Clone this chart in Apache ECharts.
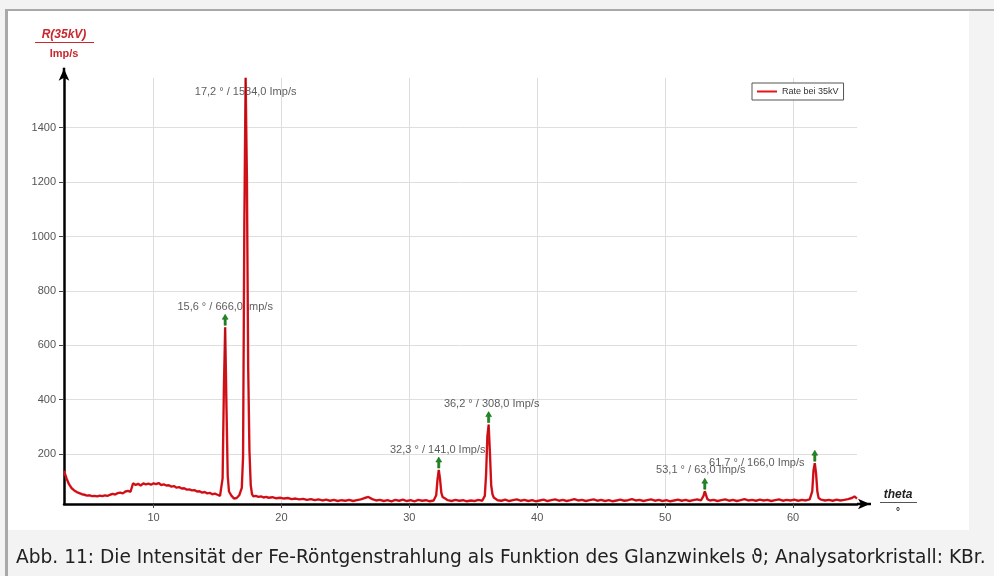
<!DOCTYPE html>
<html><head><meta charset="utf-8">
<script src="https://cdn.jsdelivr.net/npm/echarts@6/dist/echarts.min.js"></script>
<style>html,body{margin:0;padding:0;background:#f3f3f3}#c{width:994px;height:576px}</style>
</head><body><div id="c"></div><script>
const seriesName = 'Rate bei 35kV';
const yTitle = 'R(35kV)';
const yUnit = 'Imp/s';
const xTitle = 'theta';
const xUnit = '°';
const caption = 'Abb. 11: Die Intensität der Fe-Röntgenstrahlung als Funktion des Glanzwinkels ϑ; Analysatorkristall: KBr.';
const xTicks = [10, 20, 30, 40, 50, 60];
const yTicks = [200, 400, 600, 800, 1000, 1200, 1400];
const xRange = [3, 65];
const yRange = [16, 1584];
const peakTheta = [15.6, 17.2, 32.3, 36.2, 53.1, 61.7];
const peakRate = [666, 1584, 141, 308, 63, 166];
const peakLabels = ['15,6 ° / 666,0 Imp/s', '17,2 ° / 1584,0 Imp/s', '32,3 ° / 141,0 Imp/s', '36,2 ° / 308,0 Imp/s', '53,1 ° / 63,0 Imp/s', '61,7 ° / 166,0 Imp/s'];
// [theta (°), rate (Imp/s)]
const measurement = [
[3.0,138],[3.2,110],[3.4,88],[3.6,74],[3.8,66],[4.0,60],[4.2,56],[4.4,52],[4.6,50],[4.8,47],
[5.0,48],[5.2,45],[5.4,46],[5.6,44],[5.8,47],[6.0,45],[6.2,48],[6.4,46],[6.6,50],[6.8,53],
[7.0,51],[7.2,56],[7.4,58],[7.6,55],[7.8,62],[8.0,64],[8.2,61],[8.3,68],[8.4,92],[8.6,86],
[8.8,90],[9.0,84],[9.2,92],[9.4,88],[9.6,91],[9.8,87],[10.0,92],[10.2,89],[10.4,93],[10.6,86],
[10.8,88],[11.0,84],[11.2,85],[11.4,80],[11.6,82],[11.8,76],[12.0,78],[12.2,73],[12.4,74],[12.6,69],
[12.8,70],[13.0,66],[13.2,67],[13.4,62],[13.6,63],[13.8,58],[14.0,60],[14.2,55],[14.4,57],[14.6,52],
[14.8,54],[15.0,50],[15.2,46],[15.3,44],[15.4,110],[15.5,440],[15.6,666],[15.7,380],[15.8,120],[15.9,62],
[16.0,55],[16.1,46],[16.2,40],[16.3,36],[16.4,42],[16.5,38],[16.6,45],[16.7,48],[16.8,52],[16.9,75],
[17.0,190],[17.1,1050],[17.2,1584],[17.3,1220],[17.4,520],[17.5,210],[17.6,85],[17.7,52],[17.8,44],[18.0,46],
[18.2,42],[18.4,44],[18.6,40],[18.8,42],[19.0,39],[19.3,41],[19.6,37],[19.9,39],[20.2,36],[20.5,38],
[20.8,34],[21.1,36],[21.4,33],[21.7,35],[22.0,31],[22.3,34],[22.6,30],[22.9,33],[23.2,29],[23.5,32],
[23.8,28],[24.1,31],[24.4,27],[24.7,30],[25.0,28],[25.3,31],[25.6,27],[25.9,30],[26.2,33],[26.5,38],
[26.8,42],[27.1,34],[27.4,29],[27.7,31],[28.0,27],[28.3,30],[28.6,26],[28.9,31],[29.2,28],[29.5,32],
[29.8,27],[30.1,30],[30.4,26],[30.7,31],[31.0,28],[31.3,30],[31.6,26],[31.9,29],[32.0,32],[32.1,48],
[32.2,105],[32.3,141],[32.4,108],[32.5,58],[32.6,42],[32.7,44],[32.8,36],[33.0,30],[33.3,27],[33.6,31],
[33.9,28],[34.2,30],[34.5,26],[34.8,29],[35.1,27],[35.4,31],[35.7,28],[35.8,30],[35.9,46],[36.0,125],
[36.1,265],[36.2,308],[36.3,205],[36.4,85],[36.5,52],[36.6,40],[36.7,34],[36.9,30],[37.2,28],[37.5,32],
[37.8,27],[38.1,30],[38.4,33],[38.7,28],[39.0,31],[39.3,27],[39.6,30],[39.9,26],[40.2,29],[40.5,32],
[40.8,27],[41.1,30],[41.4,33],[41.7,28],[42.0,31],[42.3,27],[42.6,30],[42.9,34],[43.2,29],[43.5,31],
[43.8,27],[44.1,30],[44.4,33],[44.7,28],[45.0,31],[45.3,27],[45.6,30],[45.9,26],[46.2,29],[46.5,32],
[46.8,28],[47.1,30],[47.4,34],[47.7,29],[48.0,31],[48.3,27],[48.6,30],[48.9,33],[49.2,28],[49.5,31],
[49.8,27],[50.1,30],[50.4,26],[50.7,29],[51.0,32],[51.3,28],[51.6,31],[51.9,27],[52.2,30],[52.5,33],
[52.8,29],[52.9,32],[53.0,46],[53.1,63],[53.2,49],[53.3,34],[53.5,29],[53.8,31],[54.1,27],[54.4,30],
[54.7,33],[55.0,28],[55.3,31],[55.6,27],[55.9,30],[56.2,34],[56.5,29],[56.8,31],[57.1,28],[57.4,32],
[57.7,29],[58.0,31],[58.3,27],[58.6,30],[58.9,33],[59.2,28],[59.5,31],[59.8,29],[60.1,32],[60.4,28],
[60.7,31],[61.0,29],[61.3,33],[61.4,34],[61.5,62],[61.6,140],[61.7,166],[61.8,128],[61.9,62],[62.0,38],
[62.2,32],[62.5,29],[62.8,31],[63.1,28],[63.4,32],[63.7,29],[64.0,31],[64.3,34],[64.6,38],[64.8,44],
[65.0,36]
];

// label placement (pixel offsets of label centre from the peak point)
const labelShift = [[0,-20],[0,14],[-1,-20],[3,-21],[-4,-21],[-58,0]];

const FONT = 'Liberation Sans, Arial, sans-serif';
const chart = echarts.init(document.getElementById('c'), null, {renderer: 'canvas'});
const arrowPath = 'path://M4,0 L8,5 L5.5,5 L5.5,11 L2.5,11 L2.5,5 L0,5 Z';

const option = {
  animation: false,
  backgroundColor: '#f3f3f3',
  grid: {left: 64, right: 137, top: 77.7, bottom: 72, containLabel: false},
  legend: {
    data: [seriesName], left: 752, top: 83, orient: 'horizontal',
    backgroundColor: '#fff', borderColor: '#555', borderWidth: 1, padding: [4, 5],
    icon: 'rect', itemWidth: 20, itemHeight: 2, itemGap: 4,
    textStyle: {fontFamily: FONT, fontSize: 9, color: '#333'}
  },
  xAxis: {
    type: 'value', min: xRange[0], max: xRange[1],
    axisLine: {lineStyle: {color: '#000', width: 2.5}, symbol: ['none', 'arrow'], symbolSize: [8, 12], symbolOffset: [0, 13]},
    axisTick: {customValues: xTicks, length: 4, lineStyle: {color: '#444'}},
    axisLabel: {customValues: xTicks, color: '#555', fontFamily: FONT, fontSize: 11, margin: 8, formatter: v => String(v)},
    splitLine: {show: true, lineStyle: {color: '#dedede', width: 1}}
  },
  yAxis: {
    type: 'value', min: yRange[0], max: yRange[1],
    axisLine: {show: true, lineStyle: {color: '#000', width: 2.5}, symbol: ['none', 'arrow'], symbolSize: [8, 12], symbolOffset: [0, 9]},
    axisTick: {show: true, customValues: yTicks, length: 5, lineStyle: {color: '#444'}},
    axisLabel: {customValues: yTicks, color: '#555', fontFamily: FONT, fontSize: 11, margin: 8, formatter: v => String(v)},
    splitLine: {show: true, lineStyle: {color: '#dedede', width: 1}}
  },
  series: [
    {
      name: seriesName, type: 'line', data: measurement, showSymbol: false, z: 3,
      lineStyle: {color: '#e8141c', width: 2.4}, itemStyle: {color: '#e8141c'}
    },
    {
      name: 'trace', type: 'line', data: measurement, showSymbol: false, z: 4,
      lineStyle: {color: '#4a1010', width: 0.6, opacity: 0.55}, silent: true
    },
    {
      name: 'peak labels', type: 'scatter', z: 2, symbolSize: 1, silent: true,
      itemStyle: {color: 'rgba(0,0,0,0)'},
      data: peakTheta.map((t, i) => ({value: [t, peakRate[i]], label: {offset: labelShift[i]}})),
      label: {show: true, position: 'inside', formatter: p => peakLabels[p.dataIndex],
        fontFamily: FONT, fontSize: 11, color: '#333'}
    },
    {
      name: 'peak marks', type: 'scatter', z: 5, symbol: arrowPath, symbolSize: [8, 11], symbolOffset: [0, -7.5],
      symbolKeepAspect: true, silent: true,
      data: peakTheta.map((t, i) => ({value: [t, peakRate[i]], itemStyle: {opacity: peakRate[i] >= yRange[1] ? 0 : 1}})),
      itemStyle: {color: '#1d8a1d', borderColor: '#0b5a0b', borderWidth: 0.5}
    }
  ],
  graphic: [
    {type: 'rect', z: -20, shape: {x: 5, y: 9, width: 989, height: 567}, style: {fill: '#a9a9a9'}},
    {type: 'rect', z: -19, shape: {x: 8, y: 11, width: 986, height: 565}, style: {fill: '#f3f3f3'}},
    {type: 'rect', z: -18, shape: {x: 8, y: 11, width: 961, height: 519}, style: {fill: '#ffffff'}},
    {type: 'text', z: 10, x: 64, y: 35, style: {text: yTitle, fill: '#c8282e', font: 'italic bold 12px ' + FONT, textAlign: 'center', textVerticalAlign: 'middle'}},
    {type: 'line', z: 10, shape: {x1: 35, y1: 42.5, x2: 94, y2: 42.5}, style: {stroke: '#c8282e', lineWidth: 1}},
    {type: 'text', z: 10, x: 64, y: 54, style: {text: yUnit, fill: '#c8282e', font: 'bold 11px ' + FONT, textAlign: 'center', textVerticalAlign: 'middle'}},
    {type: 'text', z: 10, x: 898, y: 495, style: {text: xTitle, fill: '#222', font: 'italic bold 12px ' + FONT, textAlign: 'center', textVerticalAlign: 'middle'}},
    {type: 'line', z: 10, shape: {x1: 880, y1: 502.5, x2: 917, y2: 502.5}, style: {stroke: '#555', lineWidth: 1}},
    {type: 'text', z: 10, x: 898, y: 512, style: {text: xUnit, fill: '#222', font: 'bold 10px ' + FONT, textAlign: 'center', textVerticalAlign: 'middle'}},
    {type: 'text', z: 10, x: 16, y: 558, style: {text: caption, fill: '#202122', font: '18.6px "DejaVu Sans", sans-serif', textAlign: 'left', textVerticalAlign: 'middle'}}
  ]
};
chart.setOption(option);

// extend the axis lines to their arrowheads
const o = chart.convertToPixel({gridIndex: 0}, [xRange[0], yRange[0]]);
const e = chart.convertToPixel({gridIndex: 0}, [xRange[1], yRange[1]]);
chart.setOption({graphic: option.graphic.concat([
  {type: 'line', z: 10, shape: {x1: e[0], y1: o[1], x2: e[0] + 14, y2: o[1]}, style: {stroke: '#000', lineWidth: 2.5}},
  {type: 'line', z: 10, shape: {x1: o[0], y1: e[1], x2: o[0], y2: e[1] - 10}, style: {stroke: '#000', lineWidth: 2.5}}
])});
</script></body></html>
